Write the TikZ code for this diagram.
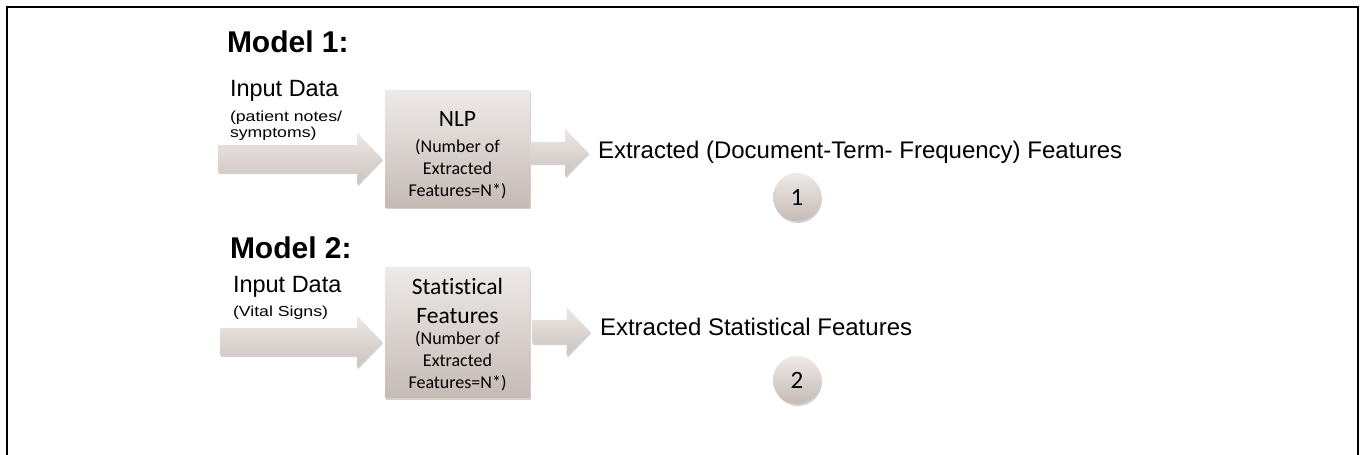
\documentclass[tikz,border=0pt]{standalone}
\usepackage{fontspec}
\setmainfont{Liberation Sans}
\newfontfamily\calibri[Ligatures=NoCommon]{Carlito}
\newfontfamily\subfont[FakeStretch=1.22]{Liberation Sans}
\usepackage{tikz}
\usepackage{xcolor}
\usetikzlibrary{arrows,shapes,positioning,shadows}
\definecolor{boxtop}{RGB}{238,234,232}
\definecolor{boxbot}{RGB}{198,186,181}
\definecolor{arrtop}{RGB}{237,233,231}
\definecolor{arrbot}{RGB}{204,194,189}
\newcommand{\bhead}{\fontsize{23.5}{27}\selectfont}
\tikzset{
  all/.style = {inner sep=0pt, outer sep=0pt},
  softshadow/.style = {drop shadow={shadow xshift=1pt, shadow yshift=-2pt, opacity=.3, fill=black!60}},
  title/.style = {all, font=\bfseries\fontsize{30}{34}\selectfont, anchor=base west},
  intxt/.style = {all, font=\fontsize{23.5}{27}\selectfont, anchor=base west},
  insub/.style = {all, font=\subfont\fontsize{14.5}{16}\selectfont, anchor=base west},
  feat/.style = {all, font=\fontsize{24}{28}\selectfont, anchor=base west},
  fbox/.style = {all, softshadow, top color=boxtop, bottom color=boxbot, minimum width=145pt, align=center, font=\calibri\fontsize{18}{22}\selectfont},
  bigarrow/.style = {all, softshadow, single arrow, single arrow tip angle=92, top color=arrtop, bottom color=arrbot, anchor=tail},
  inarrow/.style = {bigarrow, inner ysep=13.5pt, single arrow head extend=12pt},
  outarrow/.style = {bigarrow, minimum height=58pt},
  numcirc/.style = {all, softshadow, circle, minimum size=48pt, top color=boxtop, bottom color=boxbot, font=\calibri\fontsize{25}{25}\selectfont}
}

\begin{document}
\begin{tikzpicture}[x=1pt, y=-1pt]
\useasboundingbox (0,0) rectangle (1363,455);
% open frame round the figure
\draw[line width=2pt] (7,455) -- (7,7) -- (1358,7) -- (1358,455);

% Model 1: notes through NLP
\node[title] (m1) at (227,52) {Model 1:};
\node[intxt] (in1txt) at (230,96) {Input Data};
\node[insub] (in1sub) at (230,121) {(patient notes/};
\node[insub] (in1sub2) at (230,137) {symptoms)};
\node[fbox, minimum height=117pt] (nlp) at (457.5,148.5)
  {{\bhead\rule{0pt}{28pt}NLP}\\[4pt](Number of\\Extracted\\Features=N*)};
\node[inarrow, minimum height=164pt] (in1) at (218,158.5) {};
\node[outarrow, inner ysep=10.5pt, single arrow head extend=13pt] (out1) at (530,152.5) {};
\node[feat] (ext1) at (598,158) {Extracted (Document-Term- Frequency) Features};
\node[numcirc] (num1) at (797,197) {1};

% Model 2: vital signs through statistics
\node[title] (m2) at (230,258) {Model 2:};
\node[intxt] (in2txt) at (233,292) {Input Data};
\node[insub] (in2sub) at (233,316) {(Vital Signs)};
\node[fbox, minimum height=130pt] (stat) at (457.5,332.5)
  {{\bhead\rule{0pt}{20pt}Statistical}\\[7pt]{\bhead Features}\\[-1pt](Number of\\Extracted\\Features=N*)};
\node[inarrow, minimum height=162pt] (in2) at (220,341.5) {};
\node[outarrow, inner ysep=11.5pt, single arrow head extend=12.5pt] (out2) at (532,331.5) {};
\node[feat] (ext2) at (600,335) {Extracted Statistical Features};
\node[numcirc] (num2) at (797,380) {2};

\end{tikzpicture}
\end{document}
